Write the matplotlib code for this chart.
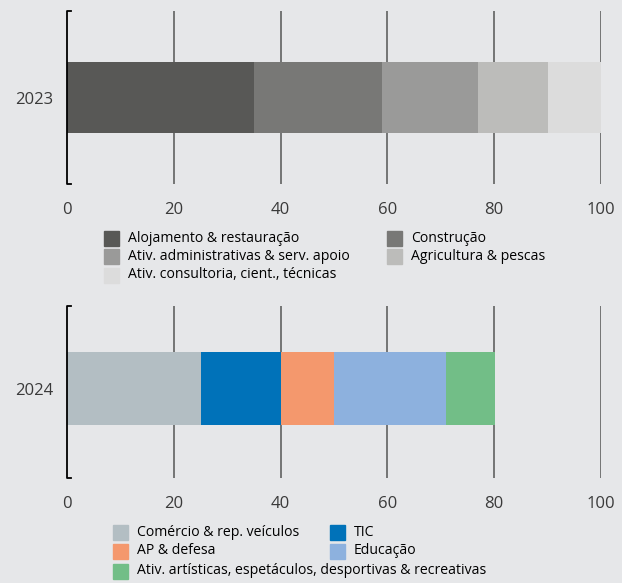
import matplotlib.pyplot as plt
from matplotlib.patches import Rectangle

plt.rcParams['font.family'] = ['Open Sans', 'DejaVu Sans']

# 2023 data
year1 = "2023"
labels1 = ["Alojamento & restauração", "Construção",
           "Ativ. administrativas & serv. apoio", "Agricultura & pescas",
           "Ativ. consultoria, cient., técnicas"]
values1 = [35, 24, 18, 13, 10]
colors1 = ["#585856", "#787876", "#9a9a99", "#bcbcba", "#dcdcdc"]

# 2024 data
year2 = "2024"
labels2 = ["Comércio & rep. veículos", "TIC", "AP & defesa", "Educação",
           "Ativ. artísticas, espetáculos, desportivas & recreativas"]
values2 = [25, 15, 10, 21, 9.2]
colors2 = ["#b3bec3", "#0072b9", "#f4986d", "#8db1de", "#72be87"]

xticks = [0, 20, 40, 60, 80, 100]

bg = "#e6e7e9"
txt = "#3a3a3a"

fig = plt.figure(figsize=(6.22, 5.83), dpi=100, facecolor=bg)
ax1 = fig.add_axes([67/622, 1 - 184/583, 534/622, 173/583])
ax2 = fig.add_axes([67/622, 1 - 478/583, 534/622, 172/583])


def draw_panel(ax, year, values, colors, yc, h):
    ax.set_facecolor(bg)
    left = 0
    for v, c in zip(values, colors):
        ax.barh(yc, v, left=left, height=h, color=c, zorder=3)
        left += v
    ax.set_xlim(0, 100)
    ax.set_ylim(-1, 1)
    for x in xticks[1:]:
        ax.axvline(x, color="#555555", lw=1.1, zorder=1)
    for s in ax.spines.values():
        s.set_visible(False)
    # bracket on the left
    ax.plot([0.008, 0, 0, 0.008], [0, 0, 1, 1], transform=ax.transAxes,
            color="black", lw=1.3, clip_on=False, zorder=4)
    ax.set_xticks(xticks)
    ax.set_yticks([yc])
    ax.set_yticklabels([year])
    ax.tick_params(axis='both', length=0, labelsize=12, labelcolor=txt)
    ax.tick_params(axis='x', pad=13)
    ax.tick_params(axis='y', pad=10)


def draw_legend(labels, colors, x_sq, x_sq2, y_rows):
    # row-major, two columns; last item gets its own row
    for i, (lab, c) in enumerate(zip(labels, colors)):
        row = i // 2
        xs = x_sq if i % 2 == 0 else x_sq2
        y = y_rows[row]
        fig.patches.append(Rectangle((xs/622, 1 - (y + 7.5)/583), 15/622, 15/583,
                                     transform=fig.transFigure, color=c))
        fig.text((xs + 24)/622, 1 - y/583, lab, fontsize=10.1, color="black",
                 va="center", ha="left")


draw_panel(ax1, year1, values1, colors1, 0, 0.81)
draw_panel(ax2, year2, values2, colors2, 0.04, 0.85)

draw_legend(labels1, colors1, 104, 387, [238, 256.5, 275])
draw_legend(labels2, colors2, 113, 330, [532, 551, 571])

fig.savefig("out.png", dpi=100, facecolor=bg)
